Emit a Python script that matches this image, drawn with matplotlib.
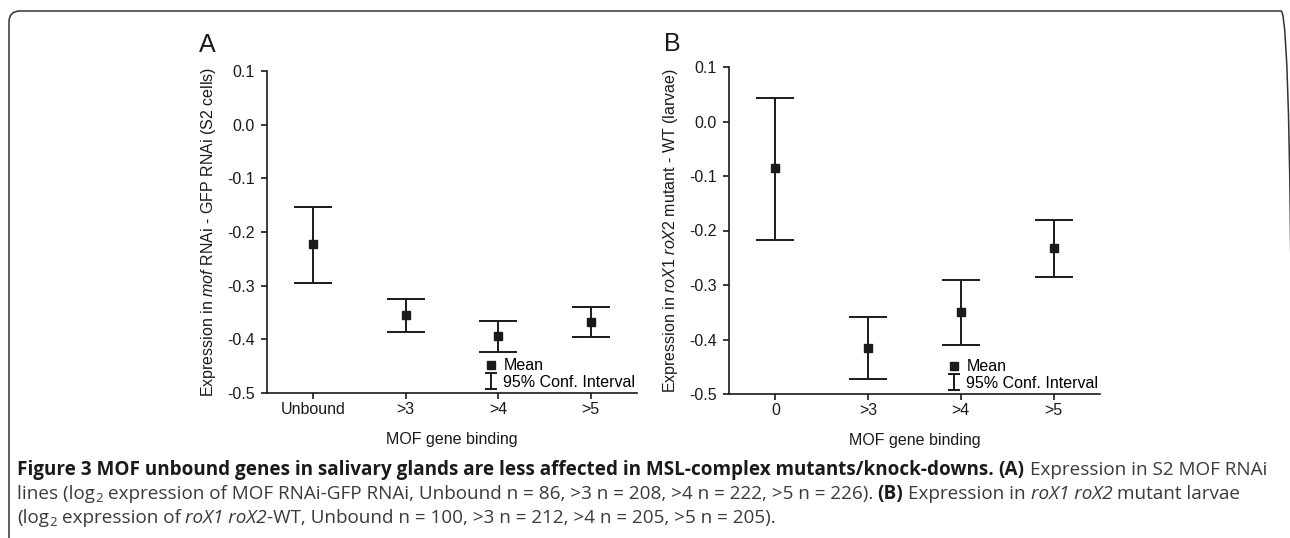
import numpy as np
import matplotlib
matplotlib.use("Agg")
import matplotlib.pyplot as plt
import matplotlib.patches as patches
from matplotlib.lines import Line2D
from matplotlib.path import Path
from matplotlib.transforms import IdentityTransform

plt.rcParams["font.family"] = ["Liberation Sans", "DejaVu Sans"]
plt.rcParams["mathtext.fontset"] = "custom"
plt.rcParams["mathtext.rm"] = "Liberation Sans"
plt.rcParams["mathtext.it"] = "Liberation Sans:italic"

# ---- data ----
cats_a = ["Unbound", ">3", ">4", ">5"]
mean_a = [-0.223, -0.355, -0.394, -0.367]
lo_a   = [-0.295, -0.386, -0.423, -0.395]
hi_a   = [-0.153, -0.324, -0.365, -0.339]

cats_b = ["0", ">3", ">4", ">5"]
mean_b = [-0.086, -0.416, -0.350, -0.233]
lo_b   = [-0.217, -0.473, -0.410, -0.286]
hi_b   = [0.043, -0.359, -0.291, -0.181]

yticks = [0.1, 0.0, -0.1, -0.2, -0.3, -0.4, -0.5]

INK = "#1a1a1a"
FS = 11.5

W, H = 1290, 538
fig = plt.figure(figsize=(W / 100, H / 100), dpi=100)

# rounded frame around the figure
fig.patches.append(patches.FancyBboxPatch(
    (9, -30), 1283, 538 - 11 + 30,
    boxstyle="round,pad=0,rounding_size=11",
    transform=IdentityTransform(), facecolor="none",
    edgecolor="#333333", linewidth=1.1))

# error bar symbol for the legend
ci_path = Path([(-0.7, -1), (0.7, -1), (0, -1), (0, 1), (-0.7, 1), (0.7, 1)],
               [Path.MOVETO, Path.LINETO, Path.MOVETO, Path.LINETO,
                Path.MOVETO, Path.LINETO])


def panel(ax, cats, mean, lo, hi, ylabel):
    x = np.arange(len(cats))
    mean = np.array(mean)
    yerr = [mean - np.array(lo), np.array(hi) - mean]
    ax.errorbar(x, mean, yerr=yerr, fmt="s", ms=5.5, color=INK,
                ecolor=INK, elinewidth=1.4, capsize=14, capthick=1.4)
    ax.set_xlim(-0.5, 3.5)
    ax.set_ylim(-0.5, 0.1)
    ax.set_xticks(x)
    ax.set_xticklabels(cats, fontsize=FS)
    ax.set_yticks(yticks)
    ax.set_yticklabels([f"{v:.1f}" for v in yticks], fontsize=FS)
    for s in ["top", "right"]:
        ax.spines[s].set_visible(False)
    for s in ["left", "bottom"]:
        ax.spines[s].set_linewidth(1.2)
        ax.spines[s].set_color(INK)
    ax.tick_params(direction="out", length=4, width=1.2, color=INK,
                   labelcolor=INK)
    ax.tick_params(axis="x", pad=2.5)
    ax.tick_params(axis="y", pad=5)
    ax.set_xlabel("MOF gene binding", fontsize=FS, color=INK, labelpad=11)
    ax.set_ylabel(ylabel, fontsize=FS, color=INK, labelpad=6)
    handles = [
        Line2D([], [], marker="s", ms=5.5, ls="none", color=INK),
        Line2D([], [], marker=ci_path, ms=12, ls="none", color=INK,
               markeredgewidth=1.4),
    ]
    ax.legend(handles, ["Mean", "95% Conf. Interval"], loc="lower right",
              bbox_to_anchor=(1.0, 0.005), frameon=False, fontsize=FS,
              handlelength=0.8, handletextpad=0.35, labelspacing=0.1,
              borderpad=0.1, borderaxespad=0)


ax_a = fig.add_axes([267 / W, 1 - 393 / H, 370 / W, 322 / H])
panel(ax_a, cats_a, mean_a, lo_a, hi_a,
      r"Expression in $\mathit{mof}$ RNAi - GFP RNAi (S2 cells)")
ax_b = fig.add_axes([729 / W, 1 - 394 / H, 371 / W, 327 / H])
panel(ax_b, cats_b, mean_b, lo_b, hi_b,
      r"Expression in $\mathit{roX1\ roX2}$ mutant - WT (larvae)")

fig.text(207 / W, 1 - 45 / H, "A", fontsize=18, ha="center", va="center",
         color=INK)
fig.text(672 / W, 1 - 44 / H, "B", fontsize=18, ha="center", va="center",
         color=INK)

# ---- caption, drawn run by run ----
CAP_FONT = ["Open Sans", "DejaVu Sans"]
CAP_FS = 13.6
renderer = fig.canvas.get_renderer()


def text_w(s, **kw):
    t = fig.text(0, 0, s, fontsize=CAP_FS, family=CAP_FONT, **kw)
    w = t.get_window_extent(renderer).width
    t.remove()
    return w


SPACE = text_w("x x") - text_w("xx")


def runs(x, y, items):
    # items: (text, weight, style, scale, dy, space_after)
    for txt, weight, style, scale, dy, gap in items:
        t = fig.text(x / W, 1 - (y - dy) / H, txt, fontsize=CAP_FS * scale,
                     family=CAP_FONT, fontweight=weight, fontstyle=style,
                     color="#1a1a1a" if weight == "bold" else "#3a3a3a",
                     ha="left", va="baseline")
        x += t.get_window_extent(renderer).width + (SPACE if gap else 0)


B, N, I = "bold", "normal", "italic"
runs(17, 475, [
    ("Figure 3 MOF unbound genes in salivary glands are less affected in "
     "MSL-complex mutants/knock-downs.", B, "normal", 1, 0, True),
    ("(A)", B, "normal", 1, 0, True),
    ("Expression in S2 MOF RNAi", N, "normal", 1, 0, False),
])
runs(17, 499, [
    ("lines (log", N, "normal", 1, 0, False),
    ("2", N, "normal", 0.7, -3, True),
    ("expression of MOF RNAi-GFP RNAi, Unbound n = 86, >3 n = 208, "
     ">4 n = 222, >5 n = 226).", N, "normal", 1, 0, True),
    ("(B)", B, "normal", 1, 0, True),
    ("Expression in", N, "normal", 1, 0, True),
    ("roX1 roX2", N, I, 1, 0, True),
    ("mutant larvae", N, "normal", 1, 0, False),
])
runs(17, 523, [
    ("(log", N, "normal", 1, 0, False),
    ("2", N, "normal", 0.7, -3, True),
    ("expression of", N, "normal", 1, 0, True),
    ("roX1 roX2", N, I, 1, 0, False),
    ("-WT, Unbound n = 100, >3 n = 212, >4 n = 205, >5 n = 205).",
     N, "normal", 1, 0, False),
])

fig.savefig("out.png", dpi=100)
